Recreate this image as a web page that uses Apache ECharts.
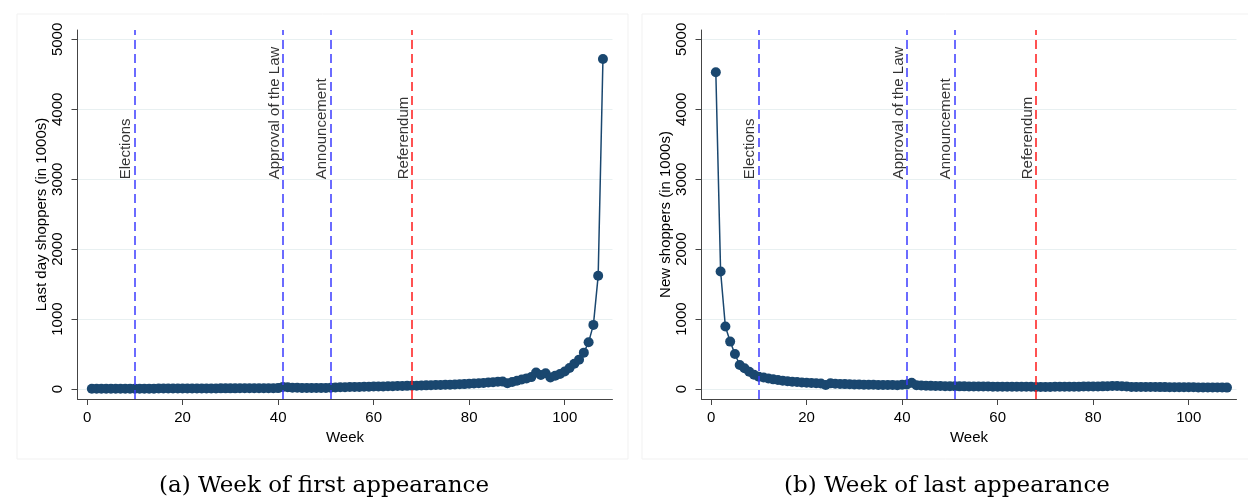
<!DOCTYPE html>
<html>
<head>
<meta charset="utf-8">
<script src="https://cdn.jsdelivr.net/npm/echarts@6/dist/echarts.min.js"></script>
<style>html,body{margin:0;padding:0;background:#fff;}#c{width:1248px;height:500px;}</style>
</head>
<body>
<div id="c"></div>
<script>
// ---- data ----
const firstAppearance = [
  3,3,3,3,4,4,4,4,4,5,
  5,5,5,5,6,6,6,6,6,7,
  7,7,7,8,8,8,8,9,9,9,
  9,10,10,10,11,11,11,12,12,13,
  30,26,19,17,16,15,15,15,16,16,
  17,21,24,26,28,29,30,31,33,35,
  36,37,39,40,42,43,45,47,48,50,
  52,54,56,58,60,62,64,67,70,74,
  78,82,86,92,98,104,106,82,100,118,
  135,152,170,235,200,225,165,190,215,250,
  300,360,420,520,670,917,1619,4720
];
const lastAppearance = [
  4530,1680,893,678,501,344,296,248,205,176,
  165,150,138,128,118,110,104,99,94,90,
  86,82,78,57,81,75,72,70,68,66,
  64,62,60,60,58,57,56,56,55,60,
  65,90,55,50,47,45,43,42,41,40,
  39,38,38,37,37,36,35,35,34,34,
  33,33,32,32,32,31,31,30,30,30,
  30,31,31,32,33,33,34,35,35,36,
  37,38,40,42,44,40,35,30,30,29,
  29,28,28,27,27,26,26,25,25,24,
  24,23,23,22,22,21,21,20
];
const eventWeeks = [10, 41, 51, 68];
const eventNames = ['Elections', 'Approval of the Law', 'Announcement', 'Referendum'];
const eventColors = ['#3b3bff', '#3b3bff', '#3b3bff', '#ff1a1a'];
const eventLabelY = 3000;
const xTicks = [0, 20, 40, 60, 80, 100];
const yTicks = [0, 1000, 2000, 3000, 4000, 5000];
const panelTitles = ['(a) Week of first appearance', '(b) Week of last appearance'];
const yNames = ['Last day shoppers (in 1000s)', 'New shoppers (in 1000s)'];
const xName = 'Week';

// ---- build ----
const NAVY = '#1a476f';
const sans = 'Liberation Sans, Arial, sans-serif';
const FS = 15;
function toPairs(vals) { return vals.map((v, i) => [i + 1, v]); }

const grids = [
  { left: 77.5, top: 30, width: 535, height: 369 },
  { left: 701.5, top: 30, width: 535, height: 369 }
];
const xAxes = [], yAxes = [], series = [];
[firstAppearance, lastAppearance].forEach((vals, k) => {
  xAxes.push({
    type: 'value', gridIndex: k, min: -2, max: 110,
    name: xName, nameLocation: 'middle', nameGap: 27,
    nameTextStyle: { fontFamily: sans, fontSize: FS, color: '#000' },
    axisLine: { show: true, onZero: false, lineStyle: { color: '#444', width: 1 } },
    axisTick: { show: true, length: 6, customValues: xTicks, lineStyle: { color: '#444' } },
    axisLabel: { customValues: xTicks, margin: 11, fontFamily: sans, fontSize: FS, color: '#000', formatter: v => String(v) },
    splitLine: { show: false }
  });
  yAxes.push({
    type: 'value', gridIndex: k, min: -143, max: 5135,
    name: yNames[k], nameLocation: 'middle', nameGap: 25, nameRotate: 90,
    nameTextStyle: { fontFamily: sans, fontSize: FS, color: '#000' },
    axisLine: { show: true, onZero: false, lineStyle: { color: '#444', width: 1 } },
    axisTick: { show: true, length: 6, customValues: yTicks, lineStyle: { color: '#444' } },
    axisLabel: { customValues: yTicks, rotate: 90, margin: 12, fontFamily: sans, fontSize: FS, color: '#000', formatter: v => String(v) },
    splitLine: { show: true, customValues: yTicks, lineStyle: { color: '#e8f0f1', width: 1 } }
  });
  series.push({
    type: 'line', xAxisIndex: k, yAxisIndex: k, data: toPairs(vals),
    symbol: 'circle', symbolSize: 10, showSymbol: true,
    lineStyle: { color: NAVY, width: 1.5 },
    itemStyle: { color: NAVY },
    z: 3, silent: true, animation: false,
    markLine: {
      silent: true, symbol: 'none', animation: false,
      label: { show: false },
      data: eventWeeks.map((w, i) => ({
        xAxis: w,
        lineStyle: { color: eventColors[i], type: [9, 5], width: 1.5 }
      }))
    }
  });
  series.push({
    type: 'scatter', xAxisIndex: k, yAxisIndex: k, symbolSize: 0, silent: true, animation: false,
    data: eventWeeks.map((w, i) => ({ value: [w, eventLabelY], name: eventNames[i] })),
    label: {
      show: true, position: 'inside', formatter: p => p.name,
      rotate: 90, align: 'left', verticalAlign: 'bottom', offset: [0, -1],
      fontFamily: sans, fontSize: FS, color: '#000'
    },
    z: 4
  });
});

const capFont = '23px "DejaVu Serif", serif';
const graphic = [
  { type: 'rect', shape: { x: 17, y: 14, width: 611, height: 445 }, style: { fill: 'none', stroke: '#f1f1f1', lineWidth: 1 }, z: -10 },
  { type: 'rect', shape: { x: 642, y: 14, width: 620, height: 445 }, style: { fill: 'none', stroke: '#f1f1f1', lineWidth: 1 }, z: -10 },
  { type: 'text', x: 324, y: 475, style: { text: panelTitles[0], textAlign: 'center', font: capFont, fill: '#000' } },
  { type: 'text', x: 947, y: 475, style: { text: panelTitles[1], textAlign: 'center', font: capFont, fill: '#000' } }
];

const chart = echarts.init(document.getElementById('c'), null, { renderer: 'canvas' });
chart.setOption({
  animation: false,
  backgroundColor: '#ffffff',
  grid: grids, xAxis: xAxes, yAxis: yAxes, series: series, graphic: graphic
});
</script>
</body>
</html>
